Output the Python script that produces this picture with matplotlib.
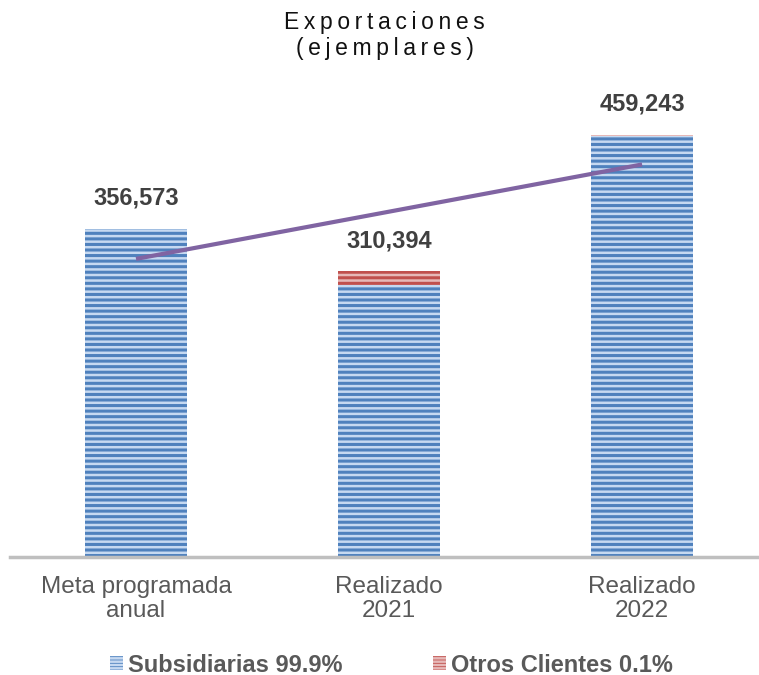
import matplotlib
matplotlib.use("Agg")
import matplotlib.pyplot as plt
import numpy as np
from matplotlib.patches import Patch

plt.rcParams['font.family'] = ['Liberation Sans', 'DejaVu Sans']
plt.rcParams['hatch.linewidth'] = 1.8

categories = ["Meta programada\nanual", "Realizado\n2021", "Realizado\n2022"]
totals = [356573, 310394, 459243]
subsidiarias = [356573, 295894, 457443]
otros = [0, 14500, 1800]
total_labels = ["356,573", "310,394", "459,243"]
legend_labels = ["Subsidiarias 99.9%", "Otros Clientes 0.1%"]

blue = '#4F81BD'
blue_h = '#C6D9F1'
red = '#C0504D'
red_h = '#E6B9B8'
purple = '#8064A2'

fig = plt.figure(figsize=(7.59, 6.75), dpi=100)
ax = fig.add_axes([10/759, 118/675, 749/759, 457/675])

x = np.arange(len(categories))
w = 0.403
ax.bar(x, subsidiarias, w, color=blue, edgecolor=blue_h, linewidth=0, hatch='---')
ax.bar(x, otros, w, bottom=subsidiarias, color=red, edgecolor=red_h, linewidth=0, hatch='---')

# linear trendline of totals
coef = np.polyfit(x, totals, 1)
ax.plot(x, np.polyval(coef, x), color=purple, lw=3, solid_capstyle='butt', zorder=3)

for xi, t, lab in zip(x, totals, total_labels):
    ax.annotate(lab, (xi, t), xytext=(0, 22), textcoords='offset points',
                ha='center', va='center', fontsize=17, fontweight='bold', color='#404040')

ax.set_xlim(-0.498, 2.462)
ax.set_ylim(0, 496800)
ax.set_yticks([])
ax.set_xticks(x)
ax.set_xticklabels(categories, fontsize=17.5, color='#595959', linespacing=1.08)
ax.tick_params(axis='x', length=0, pad=14)
for s in ['top', 'right', 'left']:
    ax.spines[s].set_visible(False)
ax.spines['bottom'].set_color('#BFBFBF')
ax.spines['bottom'].set_linewidth(2.5)

ts = '\u2009'
fig.text(0.507, 1 - 22/675, ts.join("Exportaciones"), ha='center', va='center', fontsize=16.5, color='#111111')
fig.text(0.507, 1 - 48/675, ts.join("(ejemplares)"), ha='center', va='center', fontsize=16.5, color='#111111')

handles = [Patch(facecolor=blue, edgecolor=blue_h, linewidth=0, hatch='-----'),
           Patch(facecolor=red, edgecolor=red_h, linewidth=0, hatch='-----')]
leg = fig.legend(handles, legend_labels, loc='center', bbox_to_anchor=(0.516, 1 - 665/675),
                 ncol=2, frameon=False, handlelength=0.55, handleheight=0.5, handletextpad=0.2,
                 columnspacing=3.85, prop={'size': 17, 'weight': 'bold'})
for t in leg.get_texts():
    t.set_color('#595959')

fig.savefig('out.png', dpi=100)
